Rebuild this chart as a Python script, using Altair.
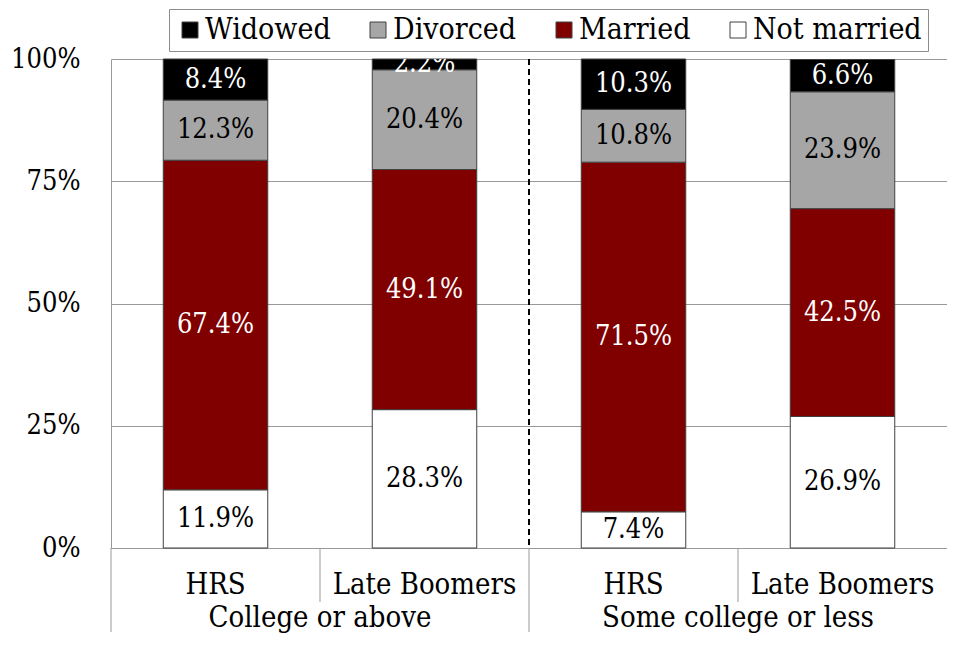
import altair as alt
import pandas as pd

# ---- data ----
groups = ["College or above", "College or above", "Some college or less", "Some college or less"]
cohorts = ["HRS", "Late Boomers", "HRS", "Late Boomers"]
statuses = ["Not married", "Married", "Divorced", "Widowed"]          # bottom -> top
legend_order = ["Widowed", "Divorced", "Married", "Not married"]
status_colors = ["#000000", "#a6a6a6", "#800000", "#ffffff"]

not_married = [11.9, 28.3, 7.4, 26.9]
married = [67.4, 49.1, 71.5, 42.5]
divorced = [12.3, 20.4, 10.8, 23.9]
widowed = [8.4, 2.2, 10.3, 6.6]
series = {"Not married": not_married, "Married": married, "Divorced": divorced, "Widowed": widowed}

y_ticks = [0, 25, 50, 75, 100]

bar_ids = [g + "|" + c for g, c in zip(groups, cohorts)]
rows = []
for i, b in enumerate(bar_ids):
    for k, s in enumerate(statuses):
        v = series[s][i]
        rows.append({"bar": b, "status": s, "ord": k, "pct": v, "label": f"{v:.1f}%"})
df = pd.DataFrame(rows)

# category slots (one unit per bar) for separators and group labels
group_names = list(dict.fromkeys(groups))
group_start = [groups.index(g) for g in group_names]
group_size = [groups.count(g) for g in group_names]
group_df = pd.DataFrame({"pos": [s + n / 2 for s, n in zip(group_start, group_size)], "group": group_names})
long_sep = pd.DataFrame({"pos": group_start})
short_sep = pd.DataFrame({"pos": [i for i in range(1, len(bar_ids)) if i not in group_start]})
dash_sep = pd.DataFrame({"pos": group_start[1:]})

# ---- style ----
W, H = 836, 489
FONT = "DejaVu Serif Condensed, DejaVu Serif"
GRID = "#999999"

xscale = alt.Scale(domain=bar_ids, paddingInner=0.5, paddingOuter=0.25)
slot_scale = alt.Scale(domain=[0, len(bar_ids)], nice=False, zero=False)
yscale = alt.Scale(domain=[0, 100], nice=False)

base = alt.Chart(df).transform_stack(
    stack="pct", groupby=["bar"], sort=[alt.SortField("ord", order="ascending")], as_=["y0", "y1"]
).transform_calculate(mid="(datum.y0 + datum.y1) / 2")

bars = base.mark_bar(stroke="#404040", strokeWidth=1).encode(
    x=alt.X("bar:N", scale=xscale, sort=bar_ids,
            axis=alt.Axis(title=None, labelExpr="split(datum.value, '|')[1]", labelFont=FONT,
                          labelFontSize=29, labelColor="black", labelPadding=22, ticks=False,
                          labelLimit=0, domainColor=GRID, labelAngle=0, grid=False)),
    y=alt.Y("y0:Q", scale=yscale,
            axis=alt.Axis(title=None, values=y_ticks, labelExpr="datum.value + '%'", labelFont=FONT,
                          labelFontSize=27, labelColor="black", labelPadding=31, ticks=False,
                          domainColor=GRID, gridColor=GRID, grid=True)),
    y2="y1:Q",
    color=alt.Color("status:N", scale=alt.Scale(domain=legend_order, range=status_colors),
                    legend=alt.Legend(title=None, orient="none", legendX=58, legendY=-50,
                                      direction="horizontal", columns=4, symbolType="square",
                                      symbolSize=256, symbolStrokeColor="#404040", symbolStrokeWidth=1,
                                      symbolOpacity=1, labelFont=FONT, labelFontSize=30,
                                      labelColor="black", columnPadding=32, labelOffset=0, padding=6,
                                      labelLimit=0, strokeColor="#8c8c8c", fillColor="white")),
)

labels = base.mark_text(font=FONT, fontSize=27, baseline="middle", clip=True).encode(
    x=alt.X("bar:N", scale=xscale, sort=bar_ids, axis=None),
    y=alt.Y("mid:Q", scale=yscale),
    text="label:N",
    color=alt.condition("datum.status == 'Married' || datum.status == 'Widowed'",
                        alt.value("white"), alt.value("black")),
)

def slot_x():
    return alt.X("pos:Q", scale=slot_scale, axis=None)

dashed = alt.Chart(dash_sep).mark_rule(color="black", strokeWidth=2, strokeDash=[6, 4]).encode(
    x=slot_x(), y=alt.value(0), y2=alt.value(H),
)

short_rules = alt.Chart(short_sep).mark_rule(color=GRID, strokeWidth=1).encode(
    x=slot_x(), y=alt.value(H), y2=alt.value(H + 54),
)

long_rules = alt.Chart(long_sep).mark_rule(color=GRID, strokeWidth=1).encode(
    x=slot_x(), y=alt.value(H), y2=alt.value(H + 84),
)

group_text = alt.Chart(group_df).mark_text(font=FONT, fontSize=29, baseline="middle", color="black").encode(
    x=slot_x(), y=alt.value(H + 70), text="group:N",
)

chart = alt.layer(bars, labels, dashed, short_rules, long_rules, group_text).resolve_scale(
    x="independent"
).properties(
    width=W, height=H, padding={"left": 2, "top": 0, "right": 0, "bottom": 0}, background="white"
).configure_view(stroke=None)

chart.save("out.html", embed_options={"renderer": "svg", "actions": False})
